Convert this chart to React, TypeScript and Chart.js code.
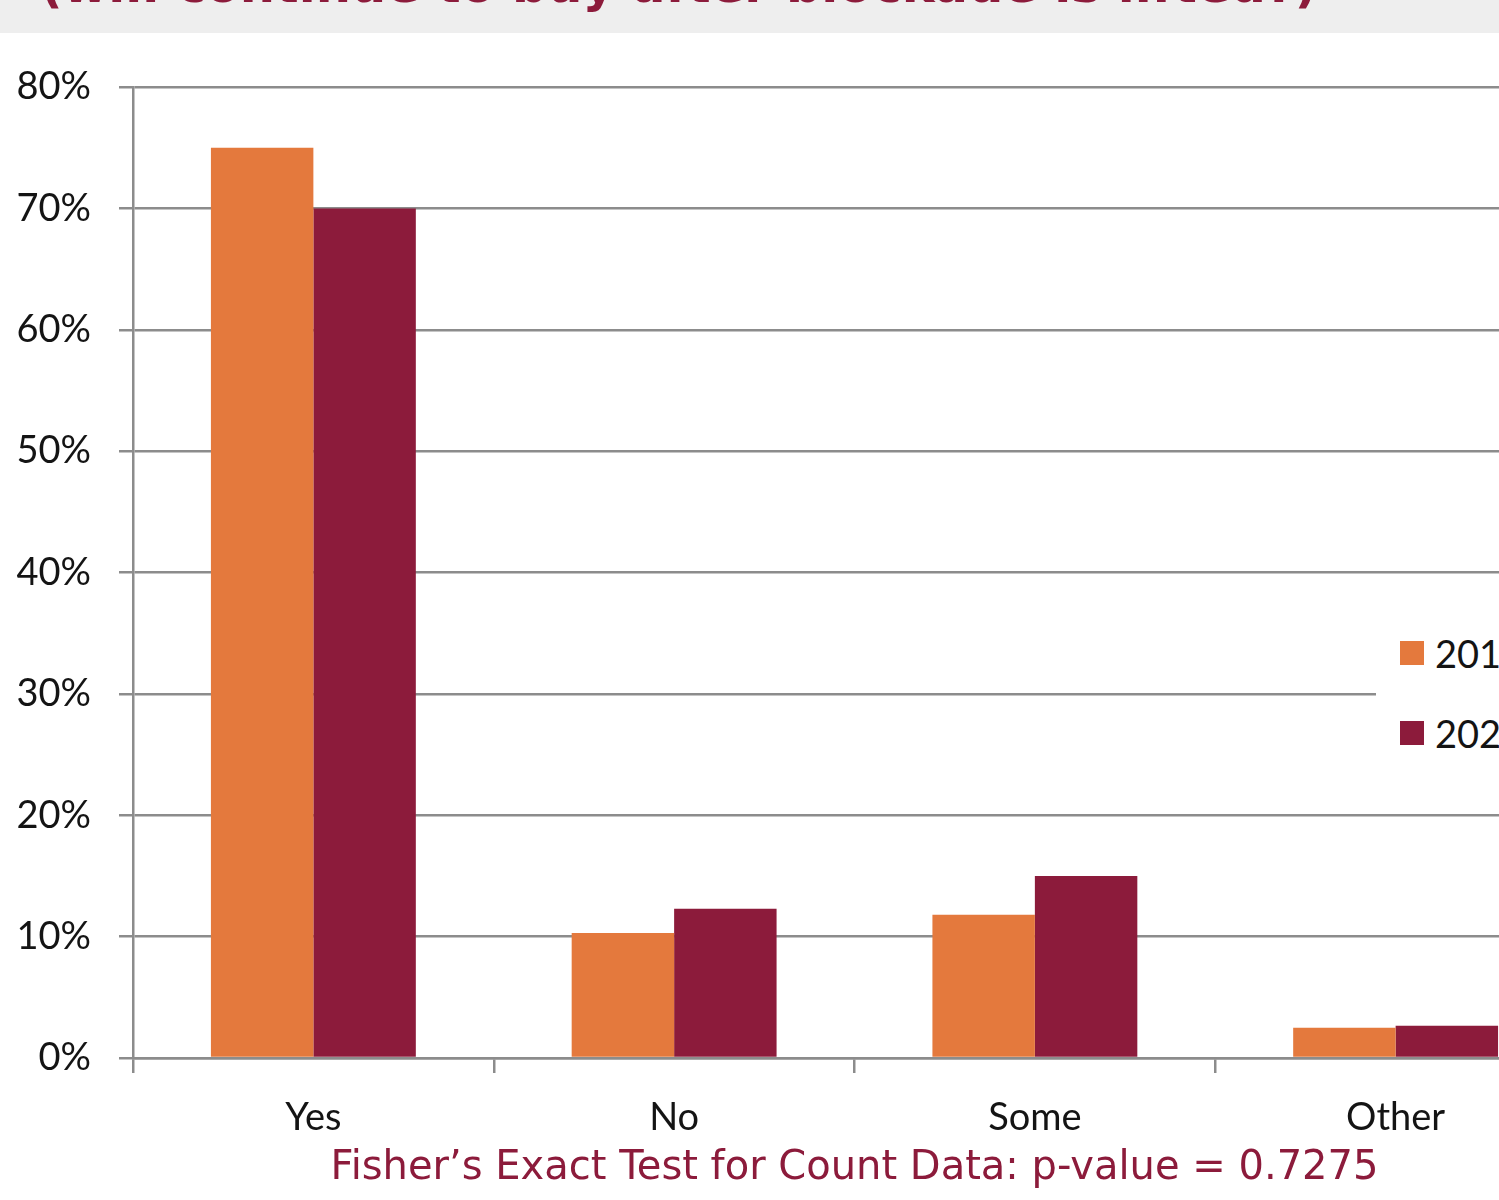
import React, { useEffect, useRef } from 'react';
import { Chart, registerables } from 'chart.js';

Chart.register(...registerables);

const TITLE = '(will continue to buy after blockade is lifted?)';
const categories = ['Yes', 'No', 'Some', 'Other'];
const seriesLabels = ['2019', '2020'];
const values2019 = [75, 10.3, 11.8, 2.5];
const values2020 = [70, 12.3, 15.0, 2.65];
const yMax = 80;
const yStep = 10;
const footnote = 'Fisher\u2019s Exact Test for Count Data: p-value = 0.7275';

const ORANGE = '#E4793D';
const CRIMSON = '#8C1B3B';
const GRID = '#8C8C8C';
const TEXT = '#141414';
const seriesColors = [ORANGE, CRIMSON];

export default function App() {
  const canvasRef = useRef<HTMLCanvasElement | null>(null);

  useEffect(() => {
    const canvas = canvasRef.current;
    if (!canvas) return;
    const chart = new Chart(canvas, {
      type: 'bar',
      data: {
        labels: categories,
        datasets: [
          { label: seriesLabels[0], data: values2019, backgroundColor: ORANGE, borderWidth: 0 },
          { label: seriesLabels[1], data: values2020, backgroundColor: CRIMSON, borderWidth: 0 },
        ],
      },
      options: {
        animation: false,
        responsive: true,
        maintainAspectRatio: false,
        devicePixelRatio: 1,
        layout: { padding: { top: 87, right: 14, bottom: 7, left: 0 } },
        datasets: { bar: { categoryPercentage: 0.568, barPercentage: 1 } },
        plugins: {
          legend: { display: false },
          tooltip: { enabled: false },
        },
        scales: {
          x: {
            grid: { drawOnChartArea: false, offset: true, tickLength: 15, color: GRID, lineWidth: 2.5 },
            border: { color: GRID, width: 2.5 },
            ticks: { font: { family: 'Lato', size: 38 }, color: TEXT, padding: 22 },
            title: {
              display: true,
              text: footnote,
              color: CRIMSON,
              font: { family: 'DejaVu Sans', size: 40 },
              padding: { top: 4, bottom: 0 },
            },
            afterFit: (s: any) => {
              s.height = 135;
            },
          },
          y: {
            min: 0,
            max: yMax,
            ticks: {
              stepSize: yStep,
              callback: (v: any) => v + '%',
              font: { family: 'Lato', size: 38 },
              color: TEXT,
              padding: 28,
            },
            grid: { color: GRID, lineWidth: 2.5, tickLength: 14 },
            border: { color: GRID, width: 2.5 },
            afterFit: (s: any) => {
              s.width = 133;
            },
          },
        },
      },
    });
    return () => chart.destroy();
  }, []);

  return (
    <div
      style={{
        position: 'fixed',
        left: 0,
        top: 0,
        width: 1499,
        height: 1200,
        overflow: 'hidden',
        background: '#FFFFFF',
      }}
    >
      <div style={{ position: 'absolute', left: 0, top: 0, width: 1590, height: 1200 }}>
        <canvas ref={canvasRef} />
      </div>
      <div
        style={{
          position: 'absolute',
          left: 0,
          top: 0,
          width: 1499,
          height: 33,
          background: '#EEEEEE',
          overflow: 'hidden',
        }}
      >
        <div
          style={{
            position: 'absolute',
            left: 40,
            top: -39,
            whiteSpace: 'nowrap',
            font: 'bold 49.5px "DejaVu Sans"',
            lineHeight: 1,
            color: CRIMSON,
          }}
        >
          {TITLE}
        </div>
      </div>
      <div
        style={{
          position: 'absolute',
          left: 1376,
          top: 612,
          width: 200,
          height: 160,
          background: '#FFFFFF',
        }}
      >
        {seriesLabels.map((lab, i) => (
          <div
            key={lab}
            style={{
              position: 'absolute',
              left: 24,
              top: 29 + i * 80,
              height: 24,
              display: 'flex',
              alignItems: 'center',
              whiteSpace: 'nowrap',
            }}
          >
            <span style={{ display: 'inline-block', width: 24, height: 24, background: seriesColors[i] }} />
            <span style={{ marginLeft: 11, font: '38px Lato', lineHeight: '24px', color: TEXT }}>{lab}</span>
          </div>
        ))}
      </div>
    </div>
  );
}
